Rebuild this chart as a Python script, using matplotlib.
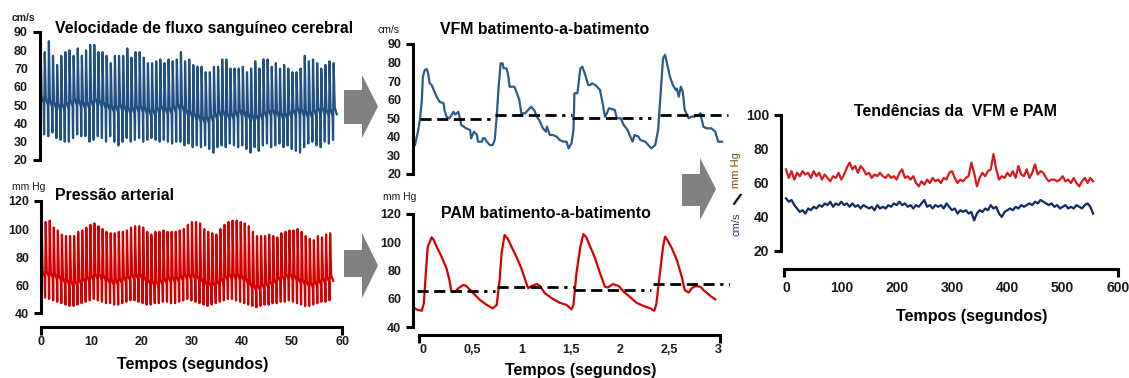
import numpy as np
import matplotlib.pyplot as plt
from matplotlib.patches import Polygon

W, H = 1129, 378
plt.rcParams['font.family'] = ['Liberation Sans', 'DejaVu Sans']
plt.rcParams['font.weight'] = 'bold'

# ---- 60 s recordings: one value per beat ----
vfs_period = 0.82
vfs_peak = [81, 79, 85, 77, 72, 77, 79, 80, 77, 81, 77, 80, 83, 83, 79, 79, 77, 73, 77, 77,
            77, 81, 76, 79, 79, 76, 73, 73, 74, 75, 73, 75, 74, 75, 79, 74, 75, 72, 71, 71,
            68, 68, 71, 71, 75, 75, 70, 70, 70, 71, 68, 70, 74, 70, 75, 75, 71, 73, 70, 72,
            70, 68, 68, 70, 77, 74, 75, 73, 70, 72, 74, 73]
vfs_trough = [37, 34, 33, 35, 32, 31, 30, 30, 32, 34, 33, 33, 30, 31, 33, 32, 30, 33, 30, 28,
              30, 32, 30, 31, 32, 30, 31, 32, 31, 30, 31, 30, 29, 30, 30, 28, 29, 27, 28, 27,
              28, 26, 24, 27, 28, 27, 29, 28, 27, 28, 26, 24, 27, 25, 28, 29, 27, 28, 29, 27,
              28, 26, 25, 24, 27, 29, 30, 28, 27, 30, 29, 31]
vfs_notch = [53, 52, 51, 50, 49, 49, 50, 51, 52, 51, 50, 50, 51, 52, 51, 50, 49, 48, 48, 49,
             48, 47, 47, 48, 48, 47, 46, 46, 47, 48, 47, 47, 48, 49, 48, 46, 45, 44, 43, 42,
             42, 43, 44, 45, 45, 44, 44, 45, 46, 45, 44, 43, 43, 44, 45, 46, 46, 45, 44, 44,
             45, 46, 47, 46, 45, 45, 46, 47, 47, 46, 46, 47]

pa_period = 0.81
pa_peak = [104, 105, 106, 101, 99, 96, 95, 95, 95, 98, 99, 101, 103, 104, 102, 100, 98, 97, 97, 98,
           98, 99, 101, 102, 102, 101, 98, 96, 98, 98, 99, 98, 98, 98, 99, 100, 103, 105, 105, 104,
           100, 98, 97, 96, 100, 103, 105, 106, 106, 105, 104, 102, 98, 95, 95, 95, 96, 95, 94, 97,
           98, 99, 99, 100, 98, 95, 93, 92, 95, 94, 96, 97]
pa_trough = [52, 51, 50, 49, 48, 47, 46, 45, 45, 46, 47, 48, 49, 50, 49, 48, 47, 47, 46, 46,
             47, 48, 49, 49, 48, 47, 46, 46, 47, 47, 48, 48, 47, 47, 48, 49, 50, 49, 48, 47,
             46, 45, 46, 47, 48, 49, 50, 50, 49, 48, 47, 46, 45, 44, 45, 46, 46, 47, 47, 48,
             48, 49, 48, 47, 46, 45, 45, 46, 47, 48, 48, 49]
pa_notch = [68, 68, 67, 66, 65, 63, 62, 61, 61, 62, 63, 64, 65, 66, 66, 65, 63, 62, 62, 63,
            64, 65, 66, 66, 66, 64, 62, 61, 61, 62, 63, 64, 64, 64, 65, 66, 66, 66, 65, 63,
            61, 60, 60, 61, 63, 65, 66, 66, 66, 65, 63, 60, 58, 58, 59, 60, 61, 62, 64, 65,
            66, 66, 65, 63, 62, 61, 60, 61, 62, 63, 64, 65]

# ---- beat-to-beat (3 s) ----
vfm_t = [-0.08, -0.05, -0.03, -0.01, 0.00, 0.02, 0.04, 0.05, 0.07, 0.09, 0.11, 0.14, 0.17, 0.21, 0.22,
         0.24, 0.27, 0.31, 0.33, 0.36, 0.38, 0.39, 0.44, 0.48, 0.49, 0.52, 0.55, 0.56, 0.60, 0.61,
         0.63, 0.65, 0.68, 0.71, 0.73, 0.75, 0.77, 0.79, 0.81, 0.82, 0.85, 0.87, 0.88, 0.93, 0.95,
         0.98, 1.00, 1.04, 1.07, 1.10, 1.13, 1.16, 1.19, 1.22, 1.25, 1.26, 1.29, 1.32, 1.36, 1.39,
         1.43, 1.46, 1.48, 1.51, 1.53, 1.54, 1.57, 1.60, 1.62, 1.65, 1.68, 1.70, 1.72, 1.75, 1.77,
         1.80, 1.82, 1.85, 1.87, 1.89, 1.95, 1.97, 2.01, 2.04, 2.08, 2.10, 2.13, 2.15, 2.19, 2.21,
         2.26, 2.29, 2.32, 2.36, 2.39, 2.42, 2.44, 2.46, 2.48, 2.51, 2.54, 2.57, 2.58, 2.60, 2.62,
         2.64, 2.66, 2.70, 2.73, 2.76, 2.80, 2.82, 2.83, 2.85, 2.88, 2.93, 2.97, 3.00, 3.04]
vfm_v = [35.6, 42.8, 49.1, 59.8, 72.4, 76.0, 76.5, 75.1, 68.8, 67.9, 65.2, 61.6, 58.9, 58.1, 54.5,
         50.9, 50.0, 53.5, 52.0, 53.5, 49.1, 46.4, 44.6, 43.7, 39.2, 42.8, 41.0, 37.4, 37.4, 39.2,
         39.2, 37.4, 35.6, 35.6, 38.3, 50.9, 67.0, 79.6, 79.6, 76.9, 76.9, 72.4, 67.0, 67.0, 64.3,
         59.8, 52.7, 52.7, 54.5, 56.2, 54.5, 50.9, 48.2, 44.6, 42.8, 45.5, 41.0, 41.0, 40.1, 38.3,
         37.4, 37.4, 33.8, 36.5, 43.7, 63.5, 63.5, 76.9, 77.8, 73.3, 67.9, 67.9, 68.8, 67.9, 67.0,
         65.2, 59.8, 50.9, 52.7, 55.4, 54.5, 50.0, 50.0, 46.4, 43.7, 41.0, 37.4, 41.0, 40.1, 38.3,
         37.4, 35.6, 33.8, 35.6, 43.7, 67.0, 82.3, 84.1, 79.6, 72.4, 67.9, 65.2, 66.0, 61.6, 67.0,
         64.3, 54.5, 50.0, 50.9, 50.9, 51.8, 52.7, 50.0, 45.5, 44.6, 44.6, 42.8, 37.4, 37.4]
vfm_mean_start = [-0.03, 0.73, 1.51, 2.41]
vfm_mean_end = [0.73, 1.51, 2.34, 3.10]
vfm_mean = [49.4, 51.8, 50.0, 51.8]

pam_t = [-0.08, -0.05, -0.01, 0.01, 0.03, 0.05, 0.09, 0.11, 0.14, 0.19, 0.24, 0.27, 0.29, 0.33, 0.36,
         0.41, 0.44, 0.48, 0.53, 0.58, 0.65, 0.71, 0.75, 0.78, 0.80, 0.83, 0.86, 0.90, 0.95, 1.00,
         1.04, 1.07, 1.10, 1.16, 1.19, 1.24, 1.31, 1.39, 1.46, 1.51, 1.53, 1.56, 1.60, 1.63, 1.66,
         1.70, 1.75, 1.80, 1.85, 1.88, 1.93, 1.99, 2.04, 2.10, 2.17, 2.24, 2.31, 2.35, 2.37, 2.40,
         2.44, 2.46, 2.48, 2.53, 2.58, 2.63, 2.66, 2.70, 2.73, 2.77, 2.82, 2.85, 2.89, 2.93, 2.97]
pam_v = [53.2, 52.0, 51.5, 56.8, 78.0, 96.9, 103.5, 101.6, 96.9, 89.8, 81.6, 73.3, 65.0, 65.0, 67.4,
         69.7, 69.2, 66.2, 62.7, 59.1, 55.6, 53.2, 55.6, 73.3, 92.2, 105.1, 102.8, 96.9, 89.8, 81.6,
         73.3, 67.4, 69.0, 70.4, 69.0, 63.9, 60.3, 57.2, 55.6, 52.5, 55.6, 78.0, 96.9, 105.8, 103.5,
         96.9, 88.6, 78.0, 68.5, 68.0, 70.4, 69.0, 65.0, 61.5, 57.2, 54.9, 53.2, 51.5, 55.6, 73.3,
         96.9, 103.9, 102.0, 95.7, 87.4, 75.6, 66.2, 64.3, 67.4, 69.0, 68.5, 66.2, 63.9, 61.5, 59.6]
pam_mean_start = [-0.06, 0.75, 1.54, 2.34]
pam_mean_end = [0.73, 1.54, 2.32, 3.12]
pam_mean = [65.5, 68.1, 66.2, 70.2]

# ---- trends (one value every 5 s) ----
trend_step = 5
pam_trend = [68, 63, 67, 62, 66, 64, 67, 65, 66, 63, 67, 64, 66, 62, 65, 63, 61, 64, 63, 66,
             62, 65, 69, 72, 68, 70, 66, 70, 68, 65, 66, 63, 65, 64, 66, 64, 63, 65, 63, 64,
             62, 66, 68, 63, 64, 62, 64, 60, 58, 61, 59, 62, 60, 63, 61, 62, 60, 63, 62, 66,
             67, 63, 60, 62, 61, 63, 64, 72, 66, 58, 63, 66, 64, 67, 68, 77, 68, 62, 64, 63,
             66, 64, 67, 63, 70, 65, 64, 68, 63, 66, 71, 65, 67, 66, 63, 61, 62, 62, 61, 62,
             64, 61, 62, 60, 63, 60, 58, 61, 63, 60, 63, 61]
vfm_trend = [51, 49, 50, 47, 45, 43, 44, 42, 45, 44, 46, 45, 47, 46, 48, 47, 49, 46, 48, 47,
             49, 47, 48, 46, 48, 46, 47, 45, 47, 46, 45, 46, 44, 47, 45, 46, 45, 47, 46, 48,
             47, 49, 47, 48, 46, 47, 45, 47, 46, 48, 50, 46, 47, 45, 47, 46, 47, 45, 48, 46,
             44, 45, 42, 44, 43, 44, 42, 43, 38, 42, 44, 43, 45, 44, 47, 45, 46, 42, 40, 43,
             44, 45, 44, 46, 45, 47, 46, 47, 48, 47, 49, 48, 50, 49, 48, 47, 48, 46, 47, 45,
             46, 47, 45, 46, 45, 47, 46, 45, 47, 48, 46, 42]

BLUE = '#215182'
RED = '#d40000'
TICKC = '#1a1a1a'
PT = 0.72  # points per pixel at 100 dpi

fig = plt.figure(figsize=(W / 100, H / 100), dpi=100)

# pixel overlay for text and arrows
ov = fig.add_axes([0, 0, 1, 1])
ov.set_xlim(0, W)
ov.set_ylim(H, 0)
ov.axis('off')


def px_axes(left, top, right, bottom):
    return fig.add_axes([left / W, 1 - bottom / H, (right - left) / W, (bottom - top) / H])


def prism(ax, yticks, xticks=None, xlabels=None, xbounds=None, xout=0, fs=9, xpad=9):
    ax.patch.set_alpha(0)
    for s in ['top', 'right']:
        ax.spines[s].set_visible(False)
    ax.spines['left'].set_linewidth(2.2)
    ax.set_yticks(yticks)
    ax.set_yticks([yticks[0], yticks[-1]], minor=True)
    ax.yaxis.remove_overlapping_locs = False
    ax.tick_params(axis='y', which='major', length=0, pad=12 * PT, labelsize=fs, labelcolor=TICKC)
    ax.tick_params(axis='y', which='minor', length=7 * PT, width=2.2)
    ax.set_ylim(yticks[0], yticks[-1])
    if xticks is None:
        ax.spines['bottom'].set_visible(False)
        ax.set_xticks([])
    else:
        ax.spines['bottom'].set_linewidth(2.2)
        ax.spines['bottom'].set_position(('outward', xout * PT))
        ax.spines['bottom'].set_bounds(*xbounds)
        ax.set_xticks(xticks)
        ax.set_xticklabels(xlabels)
        ax.set_xticks(list(xbounds), minor=True)
        ax.xaxis.remove_overlapping_locs = False
        ax.tick_params(axis='x', which='major', length=0, pad=xpad * PT, labelsize=fs, labelcolor=TICKC)
        ax.tick_params(axis='x', which='minor', length=8 * PT, width=2.2)


def pulse(trough, peak, notch, period):
    # one beat: foot, systolic peak, dicrotic notch, late diastole
    x, y = [], []
    for i, (a, b, c) in enumerate(zip(trough, peak, notch)):
        t0 = i * period
        x += [t0, t0 + 0.15 * period, t0 + 0.4 * period, t0 + 0.9 * period]
        y += [a, b, c + 2, c - 2]
    return x, y


# panel 1: cerebral blood flow velocity
ax1 = px_axes(40, 32, 342, 160)
prism(ax1, [20, 30, 40, 50, 60, 70, 80, 90])
ax1.set_xlim(0, 60)
x, y = pulse(vfs_trough, vfs_peak, vfs_notch, vfs_period)
ax1.plot(x, y, color=BLUE, lw=1.6)

# panel 2: arterial pressure
ax2 = px_axes(41, 201, 342, 313)
prism(ax2, [40, 60, 80, 100, 120], xticks=[0, 10, 20, 30, 40, 50, 60],
      xlabels=['0', '10', '20', '30', '40', '50', '60'], xbounds=(0, 60), xout=14)
ax2.set_xlim(0, 60)
x, y = pulse(pa_trough, pa_peak, pa_notch, pa_period)
ax2.plot(x, y, color=RED, lw=1.6)

dash = (4, 2, 4, 2, 4, 2, 4, 2, 1.2, 2, 1.2, 2)

# panel 3: VFM beat-to-beat
ax3 = px_axes(413, 44, 730, 174)
prism(ax3, [20, 30, 40, 50, 60, 70, 80, 90])
ax3.set_xlim(-0.10, 3.12)
ax3.plot(vfm_t, vfm_v, color='#2d5b88', lw=1.6)
for a, b, m in zip(vfm_mean_start, vfm_mean_end, vfm_mean):
    ax3.plot([a, b], [m, m], color='black', lw=2, dashes=dash)

# panel 4: PAM beat-to-beat
ax4 = px_axes(413, 214, 730, 327)
prism(ax4, [40, 60, 80, 100, 120], xticks=[0, 0.5, 1, 1.5, 2, 2.5, 3],
      xlabels=['0', '0,5', '1', '1,5', '2', '2,5', '3'], xbounds=(-0.04, 3.02), xout=8)
ax4.set_xlim(-0.10, 3.12)
ax4.plot(pam_t, pam_v, color=RED, lw=1.6)
for a, b, m in zip(pam_mean_start, pam_mean_end, pam_mean):
    ax4.plot([a, b], [m, m], color='black', lw=2, dashes=dash)

# panel 5: trends
ax5 = px_axes(781, 115, 1118, 251)
prism(ax5, [20, 40, 60, 80, 100], xticks=[0, 100, 200, 300, 400, 500, 600],
      xlabels=['0', '100', '200', '300', '400', '500', '600'], xbounds=(-4, 600), xout=18,
      fs=10, xpad=12)
ax5.set_xlim(-9, 600)
tt = np.arange(len(pam_trend)) * trend_step
ax5.plot(tt, pam_trend, color='#d61c1c', lw=1.6)
tt = np.arange(len(vfm_trend)) * trend_step
ax5.plot(tt, vfm_trend, color='#0f2a66', lw=1.6)

# texts
tkw = dict(fontsize=11.4, fontweight='bold', color='black', va='center')
ov.text(204, 28, 'Velocidade de fluxo sanguíneo cerebral', ha='center', **tkw)
ov.text(55, 195, 'Pressão arterial', ha='left', **tkw)
ov.text(545, 30, 'VFM batimento-a-batimento', ha='center', **tkw)
ov.text(546, 213, 'PAM batimento-a-batimento', ha='center', **tkw)
ov.text(956, 112, 'Tendências da  VFM e PAM', ha='center', **tkw)

xl = dict(fontsize=11.6, fontweight='bold', color='black', ha='center', va='center')
ov.text(193, 365, 'Tempos (segundos)', **xl)
ov.text(581, 370, 'Tempos (segundos)', **xl)
ov.text(972, 317, 'Tempos (segundos)', **xl)

ul = dict(fontsize=7.5, color=TICKC, va='center', ha='left')
ov.text(12, 18, 'cm/s', **ul)
ov.text(12, 187, 'mm Hg', fontweight='normal', **ul)
ov.text(378, 30, 'cm/s', fontweight='normal', **ul)
ov.text(383, 197, 'mm Hg', fontweight='normal', **ul)

ov.text(736, 224, 'cm/s', rotation=90, fontsize=8, fontweight='normal', color='#243f7a',
        ha='center', va='center')
ov.text(736, 201, '/', rotation=-25, fontsize=13, fontweight='bold', color='black',
        ha='center', va='center')
ov.text(736, 170, 'mm Hg', rotation=90, fontsize=8, fontweight='normal', color='#7a4a0a',
        ha='center', va='center')

# arrows
GRAY = '#808080'
arrows = [(344, 362, 378, 90, 124, 75, 138),
          (344, 362, 378, 250, 277, 233, 298),
          (682, 700, 716, 174, 206, 158, 220)]
for x0, x1, x2, b0, b1, h0, h1 in arrows:
    ym = (h0 + h1) / 2
    ov.add_patch(Polygon([(x0, b0), (x1, b0), (x1, h0), (x2, ym), (x1, h1), (x1, b1), (x0, b1)],
                         closed=True, color=GRAY, lw=0))

fig.savefig('out.png', dpi=100)
